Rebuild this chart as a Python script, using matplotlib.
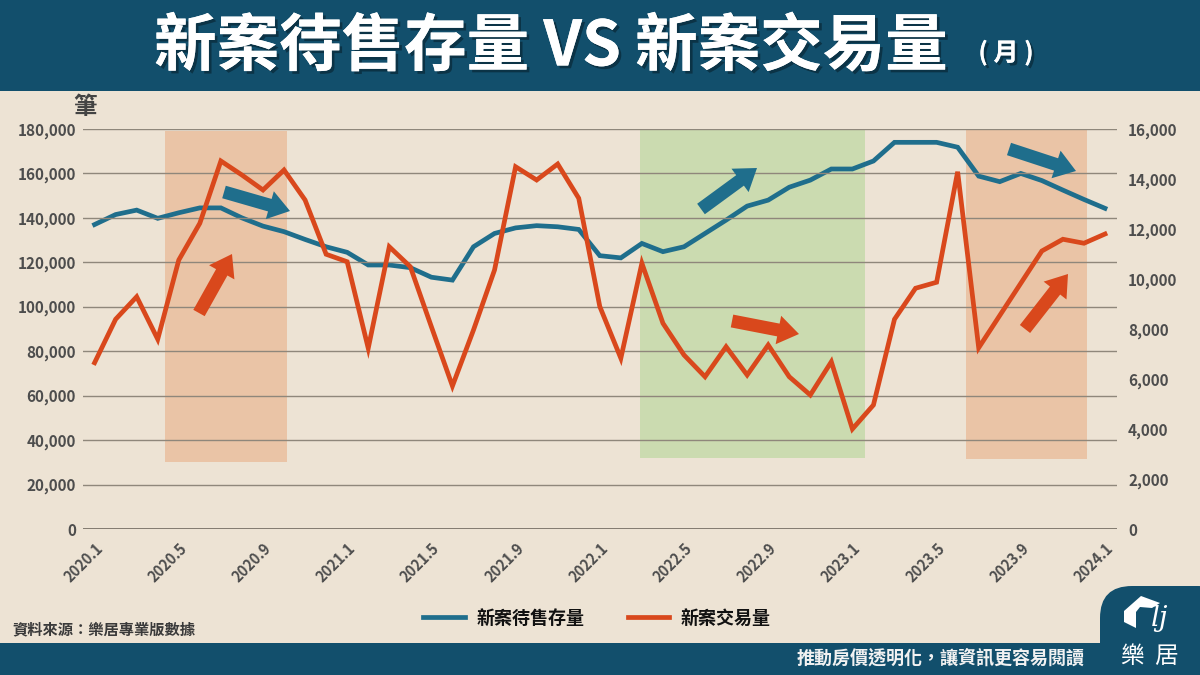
import numpy as np
import matplotlib
matplotlib.use('Agg')
import matplotlib.pyplot as plt
import matplotlib.patheffects as pe
from matplotlib.patches import Rectangle, FancyArrow, FancyBboxPatch, Polygon

# 2020.1 ~ 2024.1 monthly
tick_labels = ['2020.1', '2020.5', '2020.9', '2021.1', '2021.5', '2021.9', '2022.1',
               '2022.5', '2022.9', '2023.1', '2023.5', '2023.9', '2024.1']

# 新案待售存量 (left axis)
stock = [137000, 141500, 143500, 139800, 142300, 144500, 144500, 140000, 136300, 133800,
         130300, 127000, 124500, 118800, 118800, 117600, 113300, 112000, 127000, 133000,
         135500, 136500, 136000, 134800, 123000, 122000, 128500, 124800, 127000, 133000,
         139000, 145300, 148000, 153800, 157000, 162000, 162000, 165600, 174000, 174000,
         174000, 171800, 158800, 156300, 160000, 156800, 152500, 148300, 144300]

# 新案交易量 (right axis)
deals = [6650, 8390, 9290, 7590, 10760, 12230, 14720, 14160, 13560, 14360,
         13160, 10990, 10690, 7230, 11290, 10490, 8090, 5720, 7960, 10360,
         14490, 13960, 14600, 13230, 8900, 6830, 10630, 8230, 6960, 6090,
         7290, 6160, 7360, 6090, 5360, 6690, 4000, 4960, 8390, 9630,
         9870, 14290, 7250, 8540, 9830, 11120, 11590, 11430, 11800]

BG = '#ede3d4'
HDR = '#124f6c'
BLUE = '#1f6e8c'
ORANGE = '#d9481c'

plt.rcParams['font.family'] = ['Noto Sans CJK TC', 'DejaVu Sans']

fig = plt.figure(figsize=(12, 6.75), dpi=100)
fig.patch.set_facecolor(BG)

ax = fig.add_axes([83 / 1200, (675 - 529) / 675, (1117 - 83) / 1200, 400 / 675])
ax.set_facecolor(BG)
x = np.arange(len(stock))
ax.set_xlim(-0.55, 48.57)
ax.set_ylim(0, 180000)

# shaded periods
ax.add_patch(Rectangle((3.35, 30000), 5.8, 149000, color='#eac4a6', lw=0, zorder=0))
ax.add_patch(Rectangle((25.92, 32000), 10.67, 149500, color='#cbdbb0', lw=0, zorder=0))
ax.add_patch(Rectangle((41.4, 31300), 5.75, 149000, color='#eac4a6', lw=0, zorder=0))

ax.yaxis.grid(True, color='#8f877b', lw=1, zorder=0.5)
ax.set_axisbelow(False)
for s in ax.spines.values():
    s.set_visible(False)
ax.axhline(0, color='#6e675e', lw=1.2, zorder=0.6)
ax.set_yticks(np.arange(0, 180001, 20000))
ax.set_yticklabels([f'{v:,}' for v in range(0, 180001, 20000)])
ax.tick_params(axis='y', length=0, pad=5, labelsize=11, labelcolor='#4d4d4d')
ax.set_xticks(np.arange(0, 49, 4))
ax.set_xticklabels(tick_labels, rotation=45, ha='right', va='top', rotation_mode='anchor')
ax.tick_params(axis='x', length=0, pad=8, labelsize=10.5, labelcolor='#4d4d4d')
for t in ax.get_xticklabels() + ax.get_yticklabels():
    t.set_fontweight('bold')

l1, = ax.plot(x, stock, color=BLUE, lw=3.4, solid_joinstyle='miter', zorder=2)

ax2 = ax.twinx()
ax2.set_ylim(0, 16000)
for s in ax2.spines.values():
    s.set_visible(False)
ax2.set_yticks(np.arange(0, 16001, 2000))
ax2.set_yticklabels([f'{v:,}' for v in range(0, 16001, 2000)])
ax2.tick_params(axis='y', length=0, pad=8, labelsize=11, labelcolor='#4d4d4d')
for t in ax2.get_yticklabels():
    t.set_fontweight('bold')
l2, = ax2.plot(x, deals, color=ORANGE, lw=3.4, solid_joinstyle='miter', zorder=3)

leg = ax.legend([l1, l2], ['新案待售存量', '新案交易量'], ncol=2, frameon=False, loc='center',
                bbox_to_anchor=(597 / 1200, (675 - 618) / 675), bbox_transform=fig.transFigure,
                prop={'size': 13, 'weight': 'bold'}, handlelength=2.3, handletextpad=0.65,
                columnspacing=2.4)
for t in leg.get_texts():
    t.set_color('#111111')

# overlay in pixel units
ov = fig.add_axes([0, 0, 1, 1])
ov.set_xlim(0, 1200)
ov.set_ylim(675, 0)
ov.axis('off')
ov.patch.set_alpha(0)

ov.add_patch(Rectangle((0, 0), 1200, 91, color=HDR, lw=0))
ov.add_patch(Rectangle((0, 643), 1200, 32, color=HDR, lw=0))
ov.add_patch(FancyBboxPatch((1100, 586), 130, 100, boxstyle='round,pad=0,rounding_size=32',
                            color=HDR, lw=0))

shadow = [pe.withSimplePatchShadow(offset=(2, -2), shadow_rgbFace='black', alpha=0.35), pe.Normal()]
ov.text(551, 47, '新案待售存量 VS 新案交易量', ha='center', va='center', fontsize=45,
        fontweight='bold', color='white', path_effects=shadow)
ov.text(1006, 53, '( 月 )', ha='center', va='center', fontsize=18, fontweight='bold',
        color='white', path_effects=shadow)

ov.text(85, 107, '筆', ha='center', va='center', fontsize=17, fontweight='bold', color='#444444')
ov.text(12, 629, '資料來源：樂居專業版數據', ha='left', va='center', fontsize=11,
        fontweight='bold', color='#3a3a3a')
ov.text(1085, 658, '推動房價透明化，讓資訊更容易閱讀', ha='right', va='center', fontsize=13,
        fontweight='bold', color='#f2f2f2')

# logo
ov.add_patch(Polygon([(1124, 622), (1124, 611), (1141, 596), (1160, 603), (1152, 608),
                      (1140, 607), (1136, 612), (1136, 628)], closed=True, color='white', lw=0))
ov.text(1160, 618, 'lj', ha='center', va='center', fontsize=20, style='italic',
        family='DejaVu Serif', color='white')
ov.text(1150, 656, '樂  居', ha='center', va='center', fontsize=17, color='white')

# trend arrows
arrows = [((224, 192), (290, 211), BLUE), ((199, 313), (232, 254), ORANGE),
          ((701, 209), (757, 168), BLUE), ((732, 321), (799, 334), ORANGE),
          ((1009, 149), (1076, 171), BLUE), ((1025, 329), (1068, 274), ORANGE)]
for (x0, y0), (x1, y1), c in arrows:
    ov.add_patch(FancyArrow(x0, y0, x1 - x0, y1 - y0, width=13, head_width=29,
                            head_length=21, length_includes_head=True, color=c, lw=0))

fig.savefig('out.png', dpi=100, facecolor=BG)
